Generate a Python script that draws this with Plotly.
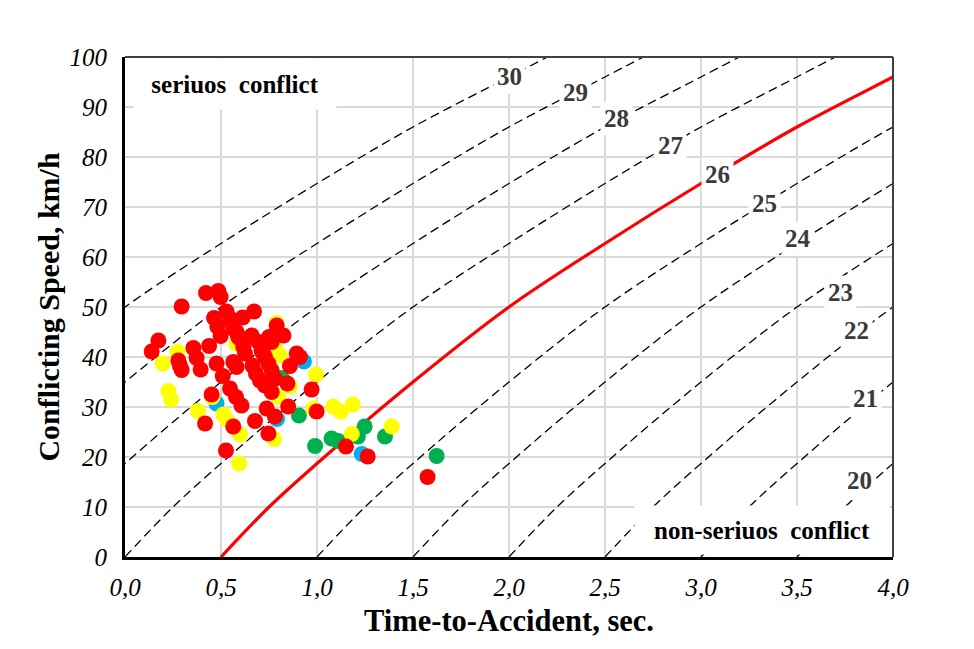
import plotly.graph_objects as go

# conflict severity curves: one speed/time profile,
# every other curve is the same profile started at a different time
curve_dt = [0.0, 0.25, 0.5, 1.0, 1.5, 2.0, 2.5, 3.0, 3.5, 3.7]
curve_speed = [0, 10, 18.7, 35, 50, 62.7, 74.7, 86, 96, 100]
curve_start = [-1.5, -1.0, -0.5, 0.0, 0.5, 1.0, 1.5, 2.0, 2.5, 3.0, 3.5]
curve_names = ['30', '29', '28', '27', '26', '25', '24', '23', '22', '21', '20']
label_x = [2.0, 2.344, 2.561, 2.842, 3.086, 3.33, 3.507, 3.726, 3.812, 3.856, 3.828]
label_y = [96.1, 93.0, 87.7, 82.4, 76.5, 70.8, 63.7, 53.0, 45.3, 31.7, 15.3]

# observed conflicts
red_x = [0.139, 0.174, 0.295, 0.278, 0.286, 0.295, 0.356, 0.373, 0.394, 0.438,
         0.422, 0.486, 0.498, 0.529, 0.464, 0.481, 0.498, 0.547, 0.555, 0.564,
         0.581, 0.590, 0.599, 0.616, 0.625, 0.613, 0.672, 0.660, 0.695, 0.711,
         0.729, 0.747, 0.764, 0.781, 0.790, 0.825, 0.751, 0.764, 0.894, 0.911,
         0.859, 0.477, 0.509, 0.564, 0.581, 0.664, 0.682, 0.703, 0.729, 0.764,
         0.846, 0.972, 0.547, 0.578, 0.607, 0.451, 0.417, 0.526, 0.564, 0.677,
         0.747, 0.738, 0.781, 0.850, 0.998, 1.151, 1.264, 1.576, 0.720]
red_y = [41.1, 43.3, 50.1, 39.3, 38.3, 37.4, 41.8, 39.8, 37.5, 42.2,
         52.8, 53.2, 52.0, 49.1, 47.8, 46.1, 44.2, 47.7, 47.0, 45.7,
         45.0, 44.0, 43.7, 42.0, 40.7, 47.9, 49.1, 44.3, 43.0, 41.3,
         40.0, 38.7, 37.3, 35.7, 46.3, 44.3, 44.0, 43.0, 40.7, 40.0,
         38.2, 38.7, 36.2, 39.0, 38.0, 38.3, 36.7, 35.3, 34.3, 33.0,
         34.7, 33.5, 33.7, 32.0, 30.3, 32.5, 26.7, 21.3, 26.1, 27.2,
         24.7, 29.7, 28.1, 30.1, 29.1, 22.1, 20.1, 16.0, 40.7]
yellow_x = [0.273, 0.196, 0.226, 0.240, 0.380, 0.512, 0.530, 0.599, 0.595, 0.776,
            0.799, 0.859, 0.995, 0.981, 1.085, 1.125, 1.186, 1.181, 1.389, 0.807,
            0.781, 0.790, 0.455, 0.580]
yellow_y = [41.0, 38.7, 33.2, 31.5, 29.2, 28.5, 27.5, 24.5, 18.7, 23.6,
            32.0, 34.1, 36.5, 29.7, 30.1, 29.1, 30.5, 24.6, 26.1, 40.3,
            41.7, 46.8, 32.0, 42.7]
green_x = [0.816, 0.906, 0.990, 1.076, 1.110, 1.213, 1.248, 1.354, 1.623]
green_y = [35.8, 28.3, 22.2, 23.7, 23.2, 24.1, 26.1, 24.1, 20.2]
blue_x = [0.477, 0.792, 0.932, 1.233]
blue_y = [30.7, 27.6, 39.1, 20.6]

x_ticks = [0, 0.5, 1.0, 1.5, 2.0, 2.5, 3.0, 3.5, 4.0]
x_ticktext = ['0,0', '0,5', '1,0', '1,5', '2,0', '2,5', '3,0', '3,5', '4,0']

serif = 'Times New Roman, Liberation Serif, serif'

fig = go.Figure()

# dashed curves first, the red one on top of them
for start, name in zip(curve_start, curve_names):
    if name == '26':
        continue
    fig.add_trace(go.Scatter(
        x=[start + t for t in curve_dt], y=curve_speed,
        mode='lines', line=dict(color='black', width=1.3, dash='9px,5px', shape='spline'),
        hoverinfo='skip', showlegend=False
    ))
red_start = curve_start[curve_names.index('26')]
fig.add_trace(go.Scatter(
    x=[red_start + t for t in curve_dt], y=curve_speed,
    mode='lines', line=dict(color='#ff0000', width=3.2, shape='spline'),
    hoverinfo='skip', showlegend=False
))

for xs, ys, colour in [(blue_x, blue_y, '#00b0f0'), (green_x, green_y, '#00b050'),
                       (yellow_x, yellow_y, '#ffff00'), (red_x, red_y, '#ff0000')]:
    fig.add_trace(go.Scatter(
        x=xs, y=ys, mode='markers',
        marker=dict(color=colour, size=16, line=dict(width=0)),
        showlegend=False
    ))

# curve labels sit on the curves with a white patch behind them
for lx, ly, name in zip(label_x, label_y, curve_names):
    fig.add_annotation(
        x=lx, y=ly, text=name, showarrow=False,
        font=dict(family=serif, size=25, color='#3a3a3a', weight='bold'),
        bgcolor='white', borderpad=3
    )

fig.add_annotation(
    x=0.573, y=94.7, text='seriuos&nbsp;&nbsp;conflict', showarrow=False,
    font=dict(family=serif, size=25, color='black', weight='bold'),
    bgcolor='white', width=200, height=48
)
fig.add_annotation(
    x=3.32, y=5.4, text='non-seriuos&nbsp;&nbsp;conflict', showarrow=False,
    font=dict(family=serif, size=25, color='black', weight='bold'),
    bgcolor='white', width=252, height=46
)

# thin grey frame on top and right; left and bottom are the axis lines
fig.add_shape(type='line', xref='paper', yref='paper', x0=0, x1=1, y0=1, y1=1,
              line=dict(color='#404040', width=2))
fig.add_shape(type='line', xref='paper', yref='paper', x0=1, x1=1, y0=0, y1=1,
              line=dict(color='#404040', width=2))

# the page body adds an 8px offset, so the margins are shifted to compensate
fig.update_layout(
    width=974, height=649,
    margin=dict(l=117, r=89, t=49, b=100),
    plot_bgcolor='white', paper_bgcolor='white',
    font=dict(family=serif, color='black'),
    xaxis=dict(
        range=[0, 4], tickvals=x_ticks, ticktext=x_ticktext,
        showgrid=True, gridcolor='#d9d9d9', gridwidth=1.5, zeroline=False,
        showline=True, linecolor='black', linewidth=3,
        tickfont=dict(family=serif, size=25, style='italic'),
        ticklabelstandoff=6,
        title=dict(text='Time-to-Accident, sec.', standoff=10,
                   font=dict(family=serif, size=30.5, weight='bold'))
    ),
    yaxis=dict(
        range=[0, 100], dtick=10,
        showgrid=True, gridcolor='#d9d9d9', gridwidth=1.5, zeroline=False,
        showline=True, linecolor='black', linewidth=3,
        tickfont=dict(family=serif, size=25, style='italic'),
        ticklabelstandoff=10,
        title=dict(text='Conflicting Speed, km/h', standoff=2,
                   font=dict(family=serif, size=30, weight='bold'))
    ),
)

fig.write_html('out.html')
